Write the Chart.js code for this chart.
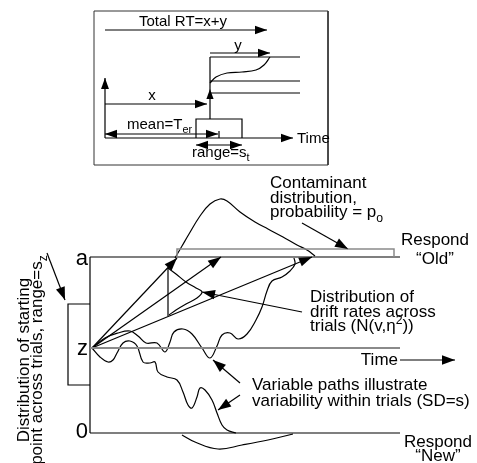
<!DOCTYPE html>
<html>
<head>
<meta charset="utf-8">
<script src="https://cdn.jsdelivr.net/npm/chart.js@4.4.0/dist/chart.umd.min.js"></script>
<style>
  html, body { margin: 0; padding: 0; background: #fff; }
  canvas { display: block; }
</style>
</head>
<body>
<canvas id="diagram" width="477" height="463"></canvas>
<script>
// diagram units: x to the right, y downward (same span as the picture)

// inset panel: non-decision time
var insetFrame = [[94,11],[328,11],[328,165],[94,165],[94,11]];
var totalRtArrow = [[105,30],[267,30]];
var yArrow = [[210,53],[270,53]];
var insetUpper = [[210,57],[300,57]];
var insetMiddle = [[210,81],[300,81]];
var insetLower = [[210,93],[300,93]];
var insetRise = [[210,119],[210,89]];
var insetStem = [[210,89],[210,57]];
var insetPath = [[210,83],[216,77],[227,73],[242,72],[256,70],[264,65],[270,57]];
var insetYAxis = [[105,138],[105,78]];
var xArrow = [[105,104],[207,104]];
var insetTimeAxis = [[105,138],[293,138]];
var terBox = [[196,138],[196,119],[242,119],[242,138]];
var meanArrow = [[105,134],[218,134]];
var meanTick = [[219,131],[219,138]];
var rangeArrow = [[196,145],[242,145]];

// main panel: diffusion process
var boundaryA = [[90,257],[400,257]];
var boundary0 = [[90,433],[400,433]];
var leftEdge = [[90,257],[90,433]];
var startLine = [[90,348],[400,348]];
var contamBox = [[177,257],[177,249],[394,249],[394,257]];
var szBox = [[90,304],[68,304],[68,385],[90,385]];
var szPointer = [[47,253],[65,300]];
var timeArrow = [[400,360],[455,360]];
var drift1 = [[92,348],[177,258]];
var drift2 = [[92,348],[221,257]];
var drift3 = [[92,348],[312,257]];
var driftBase = [[168,268],[168,316]];
var driftDensity = [[168,268],[176,274],[186,282],[196,288],[202,292],[197,298],[186,304],[176,310],[169,315]];
var contamDensity = [[175,258],[182,246],[189,234],[200,216],[210,204],[220,199],[227,201],[240,212],[255,222],[268,229],[283,237],[297,245],[307,250],[315,256]];
var pathUpper = [[92,348],[105,338],[118,333],[130,331],[138,336],[146,343],[157,343],[165,352],[170,342],[174,332],[183,329],[192,334],[202,348],[210,358],[217,346],[222,335],[230,333],[238,339],[247,334],[256,320],[262,307],[267,291],[272,281],[282,277],[290,271],[295,264],[294,258]];
var pathLower = [[92,348],[100,357],[108,362],[113,360],[117,353],[123,343],[130,341],[137,346],[143,362],[150,363],[155,362],[158,372],[167,377],[177,380],[183,392],[188,405],[192,408],[197,397],[200,388],[205,390],[212,400],[217,413],[222,425],[227,430],[236,433]];
var newBrace = [[182,435],[195,442],[218,449],[242,445],[268,440],[293,434]];
var contamPointer = [[302,223],[348,249]];
var driftPointer = [[302,312],[202,292]];
var pathPointer1 = [[240,383],[213,360]];
var pathPointer2 = [[240,395],[218,410]];

// text
var labels = [
  {x:139, y:26, parts:['Total RT=x+y'], size:15},
  {x:238, y:50, parts:['y'], size:15, align:'center'},
  {x:152, y:100, parts:['x'], size:15, align:'center'},
  {x:127, y:129, parts:['mean=T', {sub:'er'}], size:15},
  {x:297, y:143, parts:['Time'], size:15},
  {x:192, y:157, parts:['range=s', {sub:'t'}], size:15},
  {x:88, y:265, parts:['a'], size:22, align:'right'},
  {x:88, y:355, parts:['z'], size:22, align:'right'},
  {x:88, y:438, parts:['0'], size:22, align:'right'},
  {x:270, y:188, parts:['Contaminant']},
  {x:270, y:203, parts:['distribution,']},
  {x:270, y:217, parts:['probability = p', {sub:'o'}]},
  {x:435, y:245, parts:['Respond'], align:'center'},
  {x:435, y:264, parts:['\u201cOld\u201d'], align:'center'},
  {x:310, y:302, parts:['Distribution of']},
  {x:310, y:317, parts:['drift rates across']},
  {x:310, y:331, parts:['trials (N(v,\u03b7', {sup:'2'}, '))']},
  {x:398, y:365, parts:['Time'], align:'right'},
  {x:252, y:390, parts:['Variable paths illustrate']},
  {x:252, y:406, parts:['variability within trials (SD=s)']},
  {x:438, y:447, parts:['Respond'], align:'center'},
  {x:438, y:461, parts:['\u201cNew\u201d'], align:'center'},
  {x:29, y:360, parts:['Distribution of starting'], align:'center', rot:-90},
  {x:42, y:360, parts:['point across trials, range=s', {sub:'z'}], align:'center', rot:-90}
];

var gray = '#8a8a8a';
var pieces = [
  {pts: insetFrame, w: 1, color: '#333'},
  {pts: totalRtArrow, arrow: 'end', head: 12},
  {pts: yArrow, arrow: 'end', head: 12},
  {pts: insetUpper}, {pts: insetMiddle}, {pts: insetLower},
  {pts: insetRise, arrow: 'end', head: 10},
  {pts: insetStem},
  {pts: insetPath, curve: true},
  {pts: insetYAxis, arrow: 'end', head: 11},
  {pts: xArrow, arrow: 'end', head: 12},
  {pts: insetTimeAxis, arrow: 'end', head: 12},
  {pts: terBox},
  {pts: meanArrow, arrow: 'both', head: 12},
  {pts: meanTick},
  {pts: rangeArrow, arrow: 'both', head: 12},

  {pts: startLine, color: gray, w: 2},
  {pts: contamBox, color: gray, w: 1.5},
  {pts: boundaryA}, {pts: boundary0}, {pts: leftEdge},
  {pts: szBox}, {pts: szPointer, arrow: 'end', head: 13},
  {pts: timeArrow, arrow: 'end', head: 13},
  {pts: drift1, arrow: 'end', head: 13},
  {pts: drift2, arrow: 'end', head: 13},
  {pts: drift3, arrow: 'end', head: 13},
  {pts: driftBase},
  {pts: driftDensity, curve: true},
  {pts: contamDensity, curve: true},
  {pts: pathUpper, curve: true},
  {pts: pathLower, curve: true},
  {pts: newBrace, curve: true},
  {pts: contamPointer, arrow: 'end', head: 13},
  {pts: driftPointer, arrow: 'end', head: 13},
  {pts: pathPointer1, arrow: 'end', head: 13},
  {pts: pathPointer2, arrow: 'end', head: 13}
];

var FONT = '"Liberation Sans", Arial, Helvetica, sans-serif';

var arrowHeads = {
  id: 'arrowHeads',
  afterDatasetsDraw: function(chart) {
    var ctx = chart.ctx, xs = chart.scales.x, ys = chart.scales.y;
    function head(from, to, len, col) {
      var x1 = xs.getPixelForValue(from.x), y1 = ys.getPixelForValue(from.y);
      var x2 = xs.getPixelForValue(to.x), y2 = ys.getPixelForValue(to.y);
      var a = Math.atan2(y2 - y1, x2 - x1), hw = len * 0.36;
      ctx.save();
      ctx.translate(x2, y2);
      ctx.rotate(a);
      ctx.beginPath();
      ctx.moveTo(0, 0);
      ctx.lineTo(-len, -hw);
      ctx.lineTo(-len, hw);
      ctx.closePath();
      ctx.fillStyle = col;
      ctx.fill();
      ctx.restore();
    }
    chart.data.datasets.forEach(function(ds) {
      if (!ds.arrow) return;
      var d = ds.data, n = d.length;
      if (ds.arrow === 'end' || ds.arrow === 'both') head(d[n - 2], d[n - 1], ds.head, ds.borderColor);
      if (ds.arrow === 'start' || ds.arrow === 'both') head(d[1], d[0], ds.head, ds.borderColor);
    });
  }
};

var textLabels = {
  id: 'textLabels',
  afterDatasetsDraw: function(chart) {
    var ctx = chart.ctx, xs = chart.scales.x, ys = chart.scales.y;
    labels.forEach(function(lab) {
      var size = lab.size || 17;
      var parts = lab.parts.map(function(p) {
        if (typeof p === 'string') return {t: p, s: size, dy: 0};
        if (p.sub) return {t: p.sub, s: size * 0.72, dy: size * 0.28};
        return {t: p.sup, s: size * 0.72, dy: -size * 0.42};
      });
      ctx.save();
      ctx.translate(xs.getPixelForValue(lab.x), ys.getPixelForValue(lab.y));
      if (lab.rot) ctx.rotate(lab.rot * Math.PI / 180);
      var w = 0;
      parts.forEach(function(p) {
        ctx.font = p.s + 'px ' + FONT;
        p.w = ctx.measureText(p.t).width;
        w += p.w;
      });
      var x0 = lab.align === 'center' ? -w / 2 : lab.align === 'right' ? -w : 0;
      ctx.fillStyle = '#000';
      ctx.textAlign = 'left';
      ctx.textBaseline = 'alphabetic';
      parts.forEach(function(p) {
        ctx.font = p.s + 'px ' + FONT;
        ctx.fillText(p.t, x0, p.dy);
        x0 += p.w;
      });
      ctx.restore();
    });
  }
};

var datasets = pieces.map(function(p) {
  return {
    data: p.pts.map(function(q) { return {x: q[0], y: q[1]}; }),
    showLine: true,
    fill: false,
    borderColor: p.color || '#000',
    borderWidth: p.w || 1.2,
    pointRadius: 0,
    tension: p.curve ? 0.4 : 0,
    arrow: p.arrow,
    head: p.head || 12
  };
});

new Chart(document.getElementById('diagram').getContext('2d'), {
  type: 'scatter',
  data: { datasets: datasets },
  options: {
    responsive: false,
    animation: false,
    devicePixelRatio: 1,
    events: [],
    layout: { padding: 0 },
    plugins: { legend: { display: false }, tooltip: { enabled: false } },
    scales: {
      x: { type: 'linear', min: 0, max: 477, display: false },
      y: { type: 'linear', min: 0, max: 463, reverse: true, display: false }
    }
  },
  plugins: [arrowHeads, textLabels]
});
</script>
</body>
</html>
